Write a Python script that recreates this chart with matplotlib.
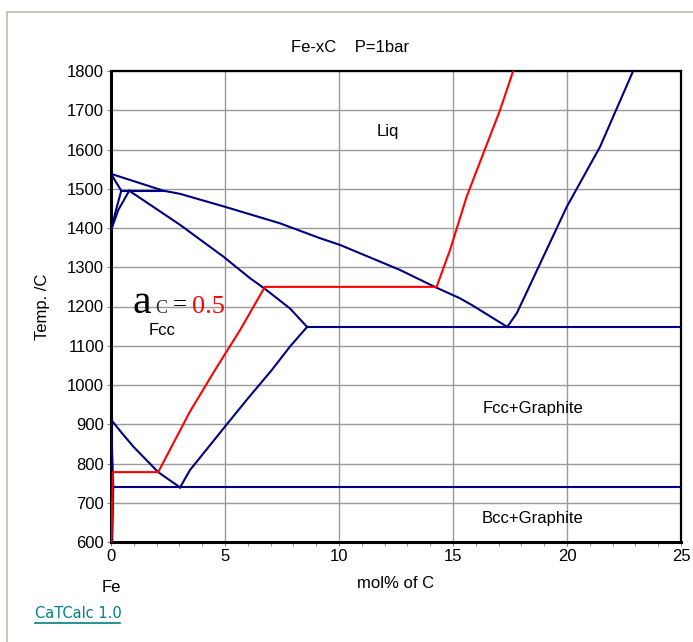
import matplotlib
matplotlib.use('Agg')
import matplotlib.pyplot as plt
from matplotlib.lines import Line2D
from matplotlib.ticker import MultipleLocator

# phase boundaries, x in mol% C, T in degC
liq_fe_x = [0, 2.3, 3.03, 5.0, 7.41, 9.17, 10.04, 12.68, 14.2, 15.3, 15.82, 17.38]
liq_fe_T = [1538, 1495, 1487, 1454, 1412, 1374, 1357, 1293, 1250, 1221, 1204, 1148]
liq_gr_x = [17.38, 17.8, 19.99, 21.45, 22.9]
liq_gr_T = [1148, 1183, 1454, 1607, 1800]
delta_sol_x = [0, 0.45]
delta_sol_T = [1538, 1495]
perit_x = [0.45, 2.3]
perit_T = [1495, 1495]
delta_gam1_x = [0, 0.22, 0.45]
delta_gam1_T = [1394, 1446, 1495]
delta_gam2_x = [0, 0.32, 0.8]
delta_gam2_T = [1394, 1446, 1495]
gam_sol_x = [0.8, 3.03, 4.93, 6.1, 6.75, 7.85, 8.6]
gam_sol_T = [1495, 1408, 1327, 1272, 1245, 1195, 1148]
a3_x = [0, 0.4, 0.98, 2.07, 3.03]
a3_T = [912, 883, 843, 778, 739]
alpha_x = [0, 0.1, 0.05]
alpha_T = [912, 739, 600]
acm_x = [3.03, 3.46, 5.0, 5.95, 7.05, 7.85, 8.6]
acm_T = [739, 783, 894, 962, 1038, 1098, 1148]
eutectoid_x = [0.1, 25]
eutectoid_T = [739, 739]
eutectic_x = [8.6, 25]
eutectic_T = [1148, 1148]

# a_C = 0.5 iso-activity line
iso_x = [0.02, 0.08, 2.07, 3.46, 4.56, 5.66, 6.75, 14.28, 14.87, 15.6, 17.06, 17.64]
iso_T = [600, 778, 778, 932, 1038, 1140, 1250, 1250, 1344, 1480, 1700, 1800]

navy = '#000080'
sans = 'Liberation Sans'

fig = plt.figure(figsize=(6.93, 6.42), dpi=100)
ax = fig.add_axes([111 / 693, 1 - 542 / 642, 570 / 693, 471 / 642])

blue_lines = [
    (liq_fe_x, liq_fe_T), (liq_gr_x, liq_gr_T), (delta_sol_x, delta_sol_T),
    (perit_x, perit_T), (delta_gam1_x, delta_gam1_T), (delta_gam2_x, delta_gam2_T),
    (gam_sol_x, gam_sol_T), (a3_x, a3_T), (alpha_x, alpha_T), (acm_x, acm_T),
    (eutectoid_x, eutectoid_T), (eutectic_x, eutectic_T),
]
for xs, ts in blue_lines:
    ax.plot(xs, ts, color=navy, lw=1.5, zorder=3)
ax.plot(iso_x, iso_T, color='red', lw=1.5, zorder=4)

ax.set_xlim(0, 25)
ax.set_ylim(600, 1800)
ax.xaxis.set_major_locator(MultipleLocator(5))
ax.xaxis.set_minor_locator(MultipleLocator(1))
ax.yaxis.set_major_locator(MultipleLocator(100))
ax.grid(True, which='major', color='#9a9a9a', lw=1)
ax.set_axisbelow(True)
ax.tick_params(which='both', direction='out', length=3, color='#808080',
               labelsize=12, pad=2)
for lab in ax.get_xticklabels() + ax.get_yticklabels():
    lab.set_family(sans)
for side in ['left', 'bottom']:
    ax.spines[side].set_linewidth(2.2)
for side in ['top', 'right']:
    ax.spines[side].set_linewidth(1.6)

ax.set_xlabel('mol% of C', fontsize=12, family=sans, labelpad=9)
ax.set_ylabel('Temp. /C', fontsize=12, family=sans, labelpad=12)

ax.text(12.15, 1645, 'Liq', fontsize=12, family=sans, ha='center', va='center')
ax.text(2.24, 1140, 'Fcc', fontsize=12, family=sans, ha='center', va='center')
ax.text(18.5, 941, 'Fcc+Graphite', fontsize=12, family=sans, ha='center', va='center')
ax.text(18.5, 659, 'Bcc+Graphite', fontsize=12, family=sans, ha='center', va='center')

serif = 'Liberation Serif'
ax.text(0.96, 1183, 'a', fontsize=30, family=serif, ha='left', va='baseline')
ax.text(1.93, 1183, 'C', fontsize=13, family=serif, color='#303030', ha='left', va='baseline')
ax.text(2.7, 1188, '=', fontsize=18, family=serif, ha='left', va='baseline')
ax.text(3.55, 1183, '0.5', fontsize=19, family=serif, color='red', ha='left', va='baseline')

fig.text(350 / 693, 1 - 47 / 642, 'Fe-xC    P=1bar', fontsize=12, family=sans,
         ha='center', va='center')
fig.text(111 / 693, 1 - 587 / 642, 'Fe', fontsize=12, family=sans, ha='center', va='center')

fig.text(35 / 693, 1 - 614 / 642, 'CaTCalc 1.0', fontsize=10.5, color='#008080',
         ha='left', va='center')
fig.add_artist(Line2D([35 / 693, 120 / 693], [1 - 623 / 642, 1 - 623 / 642],
                      color='#008080', lw=1.2, transform=fig.transFigure))

# outer frame
fig.add_artist(Line2D([6.5 / 693, 6.5 / 693], [0, 1 - 12 / 642], color='#c0c0b0',
                      lw=1.2, transform=fig.transFigure))
fig.add_artist(Line2D([6.5 / 693, 1], [1 - 12 / 642, 1 - 12 / 642], color='#c0c0b0',
                      lw=1.2, transform=fig.transFigure))

fig.savefig('out.png', dpi=100)
